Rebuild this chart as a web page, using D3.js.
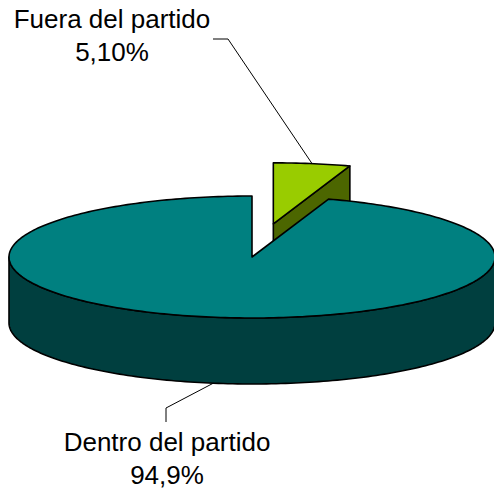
<!DOCTYPE html>
<html>
<head>
<meta charset="utf-8">
<script src="https://cdn.jsdelivr.net/npm/d3@7"></script>
<style>
  html, body { margin: 0; padding: 0; background: #fff; }
  svg { display: block; }
  text { font-family: "Liberation Sans", Arial, sans-serif; fill: #000; }
</style>
</head>
<body>
<svg id="chart" width="494" height="493"></svg>
<script>
// data
const categories = ["Fuera del partido", "Dentro del partido"];
const values = [5.1, 94.9];
const valueLabels = ["5,10%", "94,9%"];

// look
const topColors = ["#99cc00", "#008080"];
const sideColors = ["#4c6600", "#003f3f"];
const explode = [0.55, 0];

const svg = d3.select("#chart"),
    width = +svg.attr("width"),
    height = +svg.attr("height");

// tilted ellipse geometry
const cx = 252, cy = 257, rx = 243, ry = 61, depth = 66;

const px = d3.scaleLinear().domain([-1, 1]).range([cx - rx, cx + rx]);
const py = d3.scaleLinear().domain([-1, 1]).range([cy + ry, cy - ry]);

const slices = d3.pie().sort(null).value(d => d)(values);

slices.forEach((s, i) => {
    s.mid = (s.startAngle + s.endAngle) / 2;
    s.off = [explode[i] * Math.sin(s.mid), explode[i] * Math.cos(s.mid)];
    s.i = i;
});

function proj(s, a, r, h) {
    return [px(s.off[0] + r * Math.sin(a)), py(s.off[1] + r * Math.cos(a)) + h];
}

function arcPts(s, a0, a1, h) {
    const n = Math.max(2, Math.ceil(Math.abs(a1 - a0) / 0.02));
    return d3.range(n + 1).map(k => proj(s, a0 + (a1 - a0) * k / n, 1, h));
}

const line = d3.line().curve(d3.curveLinear);
const poly = pts => line(pts) + "Z";

// back slices first
const order = slices.slice().sort((a, b) => Math.cos(b.mid) - Math.cos(a.mid));

const g = svg.append("g")
    .attr("stroke", "#000")
    .attr("stroke-width", 1.6)
    .attr("stroke-linejoin", "round");

order.forEach(s => {
    const a0 = s.startAngle, a1 = s.endAngle;
    const sg = g.append("g");

    // cut faces
    if (Math.sin(a0) < -1e-6) {
        sg.append("path").attr("fill", sideColors[s.i])
            .attr("d", poly([proj(s, 0, 0, 0), proj(s, a0, 1, 0), proj(s, a0, 1, depth), proj(s, 0, 0, depth)]));
    }
    if (Math.sin(a1) > 1e-6) {
        sg.append("path").attr("fill", sideColors[s.i])
            .attr("d", poly([proj(s, 0, 0, 0), proj(s, a1, 1, 0), proj(s, a1, 1, depth), proj(s, 0, 0, depth)]));
    }

    // outer wall, front half only
    const w0 = Math.max(a0, Math.PI / 2), w1 = Math.min(a1, 3 * Math.PI / 2);
    if (w1 > w0) {
        sg.append("path").attr("fill", sideColors[s.i])
            .attr("d", poly(arcPts(s, w0, w1, 0).concat(arcPts(s, w1, w0, depth))));
    }

    // top
    sg.append("path").attr("fill", topColors[s.i])
        .attr("d", poly([proj(s, 0, 0, 0)].concat(arcPts(s, a0, a1, 0))));
});

// labels with leader lines
const labelPos = [
    { x: 112, y: 28, bend: [228, 39], end: [213, 39] },
    { x: 167, y: 451, bend: [166, 408], end: [166, 422] }
];

slices.forEach((s, i) => {
    const front = Math.cos(s.mid) < 0;
    const p = proj(s, s.mid, 1, front ? depth : 0);
    const L = labelPos[i];
    svg.append("path")
        .attr("fill", "none")
        .attr("stroke", "#000")
        .attr("stroke-width", 1)
        .attr("d", line([p, L.bend, L.end]));

    const t = svg.append("text")
        .attr("text-anchor", "middle")
        .attr("font-size", 26);
    t.append("tspan").attr("x", L.x).attr("y", L.y).text(categories[i]);
    t.append("tspan").attr("x", L.x).attr("y", L.y + 33).text(valueLabels[i]);
});
</script>
</body>
</html>
